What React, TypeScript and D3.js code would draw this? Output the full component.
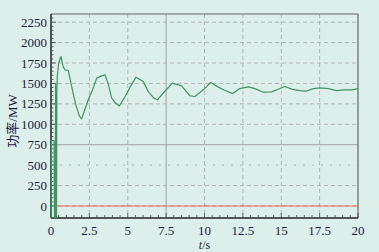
import React from 'react';
import { scaleLinear, line, range } from 'd3';

// power curve (t in s, P in MW)
const times = [0, 0.03, 0.2, 0.23, 0.28, 0.3, 0.33, 0.36, 0.38, 0.41, 0.5, 0.65, 0.8, 0.91, 1.13, 1.3, 1.6, 1.85, 2.0, 2.15, 2.43, 2.7, 2.98, 3.25, 3.52, 3.75, 3.95, 4.2, 4.45, 4.8, 5.2, 5.54, 6.01, 6.34, 6.7, 6.93, 7.3, 7.9, 8.51, 9.06, 9.38, 9.92, 10.4, 10.9, 11.34, 11.84, 12.3, 12.86, 13.29, 13.83, 14.37, 14.8, 15.24, 15.68, 16.2, 16.6, 17.09, 17.5, 18.07, 18.6, 19.15, 19.6, 20];
const power = [-150, 800, 800, -150, -150, 1500, -150, -150, 1400, 1585, 1750, 1830, 1700, 1667, 1658, 1500, 1250, 1100, 1066, 1150, 1300, 1420, 1565, 1590, 1605, 1480, 1320, 1260, 1225, 1330, 1470, 1577, 1523, 1400, 1320, 1300, 1380, 1504, 1470, 1348, 1340, 1422, 1511, 1455, 1413, 1376, 1437, 1458, 1437, 1393, 1397, 1429, 1462, 1430, 1413, 1405, 1437, 1446, 1437, 1413, 1422, 1422, 1437];
const refTimes = [0.35, 20];
const refPower = [0, 0];

const xTicks = [0, 2.5, 5, 7.5, 10, 12.5, 15, 17.5, 20];
const yTicks = [0, 250, 500, 750, 1000, 1250, 1500, 1750, 2000, 2250];

const W = 379, H = 252;
const L = 51, R = 358, T = 14, B = 218;
const FONT = '"Liberation Serif", "Times New Roman", "DejaVu Serif", serif';
const txt: React.CSSProperties = { fontFamily: FONT, fontSize: 13, fill: '#1c1c3a' };

export default function App() {
  const x = scaleLinear().domain([0, 20]).range([L, R]);
  const y = scaleLinear().domain([-147, 2350]).range([B, T]);
  const pts = times.map((t, i) => [t, power[i]] as [number, number]);
  const ref = refTimes.map((t, i) => [t, refPower[i]] as [number, number]);
  const path = line<[number, number]>().x(d => x(d[0])).y(d => Math.max(T, Math.min(B, y(d[1]))));

  const solidX = (v: number) => v === 7.5;
  const solidY = (v: number) => v === 750;

  return (
    <svg width={W} height={H} style={{ position: 'absolute', left: 0, top: 0 }}>
      <rect x={0} y={0} width={W} height={H} fill="#ddefea" />
      {/* grid */}
      {xTicks.filter(v => v > 0 && v < 20).map(v => (
        <line key={'gx' + v} x1={x(v)} x2={x(v)} y1={T} y2={B}
          stroke={solidX(v) ? '#9ea3a1' : '#b1b6b4'} strokeWidth={1}
          strokeDasharray={solidX(v) ? undefined : '4,3'} />
      ))}
      {yTicks.map(v => (
        <line key={'gy' + v} x1={L} x2={R} y1={y(v)} y2={y(v)}
          stroke={solidY(v) ? '#9ea3a1' : '#b1b6b4'} strokeWidth={1}
          strokeDasharray={solidY(v) ? undefined : v === 500 ? '2,7' : '4,3'} />
      ))}
      {/* frame */}
      <line x1={L} x2={R} y1={T} y2={T} stroke="#666" strokeWidth={1.2} />
      <line x1={R} x2={R} y1={T} y2={B} stroke="#666" strokeWidth={1.2} />
      <line x1={L} x2={L} y1={T} y2={B} stroke="#222" strokeWidth={1.5} />
      <line x1={L} x2={R} y1={B} y2={B} stroke="#222" strokeWidth={1.5} />
      {/* minor ticks */}
      {range(0, 20.01, 0.5).map(v => (
        <line key={'mx' + v} x1={x(v)} x2={x(v)} y1={B} y2={B - (v % 2.5 === 0 ? 5 : 3)} stroke="#444" strokeWidth={0.8} />
      ))}
      {range(0, 2350, 50).map(v => (
        <line key={'my' + v} x1={L} x2={L + (v % 250 === 0 ? 5 : 2.5)} y1={y(v)} y2={y(v)} stroke="#444" strokeWidth={0.8} />
      ))}
      {/* series */}
      <path d={path(ref) || ''} fill="none" stroke="#e8684f" strokeWidth={1.2} />
      <path d={path(pts) || ''} fill="none" stroke="#3f9463" strokeWidth={1.2} strokeLinejoin="round" />
      {/* labels */}
      {yTicks.map(v => (
        <text key={'ty' + v} x={L - 4} y={y(v)} dy="0.35em" textAnchor="end" style={txt}>{v}</text>
      ))}
      {xTicks.map(v => (
        <text key={'tx' + v} x={x(v)} y={B + 17} textAnchor="middle" style={txt}>{v}</text>
      ))}
      <text x={x(10)} y={249} textAnchor="middle" style={{ ...txt, fontSize: 12 }}>
        <tspan style={{ fontStyle: 'italic' }}>t</tspan>/s
      </text>
      <text transform={`translate(17,121) rotate(-90)`} textAnchor="middle"
        style={{ ...txt, fontFamily: '"Liberation Serif", "Noto Sans CJK SC", serif' }}>功率/MW</text>
    </svg>
  );
}
